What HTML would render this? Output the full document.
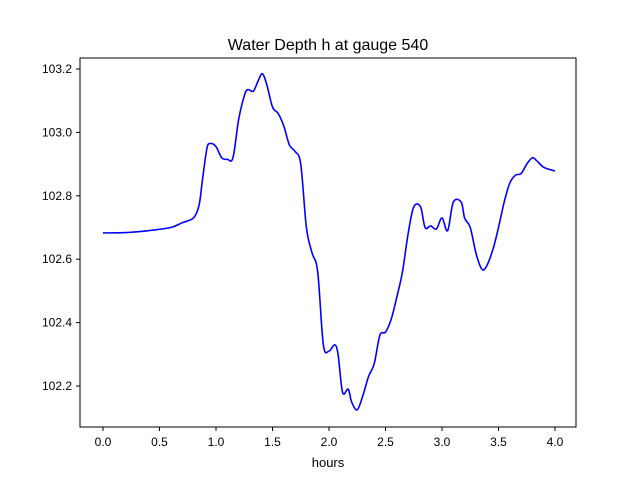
<!DOCTYPE html>
<html><head><meta charset="utf-8"><style>
body{margin:0;background:#fff;font-family:"Liberation Sans",sans-serif}
svg text{font-family:"Liberation Sans",sans-serif;fill:#000}
</style></head><body>
<svg id="c" width="640" height="480">
<rect width="640" height="480" fill="#fff"/>
<text x="328" y="50" font-size="16" text-anchor="middle">Water Depth h at gauge 540</text>
<g id="ticks"></g>
<path id="line" fill="none" stroke="#0000ff" stroke-width="1.6"/>
<rect x="80" y="58" width="496" height="369" fill="none" stroke="#000" stroke-width="1"/>
<text x="328" y="467" font-size="13" text-anchor="middle">hours</text>
</svg>
<script>
const hours=[0,0.2,0.4,0.6,0.7,0.8,0.85,0.88,0.92,0.95,1.0,1.05,1.1,1.15,1.2,1.25,1.28,1.33,1.37,1.41,1.45,1.5,1.55,1.6,1.65,1.7,1.75,1.8,1.85,1.9,1.95,2.0,2.05,2.08,2.12,2.17,2.2,2.25,2.3,2.35,2.4,2.45,2.5,2.55,2.6,2.65,2.7,2.75,2.81,2.85,2.9,2.95,3.0,3.05,3.1,3.17,3.2,3.25,3.3,3.35,3.39,3.45,3.5,3.55,3.6,3.65,3.7,3.75,3.8,3.84,3.9,4.0];
const depth=[102.683,102.684,102.69,102.70,102.715,102.73,102.77,102.85,102.95,102.965,102.955,102.92,102.915,102.92,103.04,103.115,103.135,103.13,103.16,103.185,103.15,103.08,103.06,103.02,102.96,102.94,102.9,102.7,102.62,102.56,102.33,102.31,102.33,102.3,102.18,102.19,102.15,102.125,102.17,102.23,102.27,102.36,102.37,102.41,102.48,102.56,102.68,102.765,102.765,102.7,102.705,102.695,102.73,102.69,102.78,102.78,102.73,102.7,102.62,102.57,102.575,102.63,102.7,102.78,102.84,102.865,102.87,102.9,102.92,102.91,102.89,102.878];
const xTicks=[0,0.5,1,1.5,2,2.5,3,3.5,4];
const yTicks=[102.2,102.4,102.6,102.8,103.0,103.2];
const X=v=>103+v*113, Y=v=>386-(v-102.2)*317;
const g=document.getElementById('ticks');
const ns='http://www.w3.org/2000/svg';
xTicks.forEach(t=>{
 const l=document.createElementNS(ns,'line');
 l.setAttribute('x1',X(t));l.setAttribute('x2',X(t));l.setAttribute('y1',427);l.setAttribute('y2',431);l.setAttribute('stroke','#000');
 
 
 g.appendChild(l);
 const tx=document.createElementNS(ns,'text');
 tx.setAttribute('x',X(t));tx.setAttribute('y',446);tx.setAttribute('font-size','12');tx.setAttribute('text-anchor','middle');
 tx.textContent=t.toFixed(1);
 
 
 g.appendChild(tx);
});
yTicks.forEach(t=>{
 const l=document.createElementNS(ns,'line');
 l.setAttribute('x1',76);l.setAttribute('x2',80);l.setAttribute('y1',Y(t));l.setAttribute('y2',Y(t));l.setAttribute('stroke','#000');
 
 
 g.appendChild(l);
 const tx=document.createElementNS(ns,'text');
 tx.setAttribute('x',72);tx.setAttribute('y',Y(t)+4);tx.setAttribute('font-size','12');tx.setAttribute('text-anchor','end');
 tx.textContent=t.toFixed(1);
 
 
 g.appendChild(tx);
});
const p=hours.map((h,i)=>[X(h),Y(depth[i])]);
let d='M'+p[0][0]+','+p[0][1];
for(let i=0;i<p.length-1;i++){
 const p0=p[i-1]||p[i],p1=p[i],p2=p[i+1],p3=p[i+2]||p2;
 const c1=[p1[0]+(p2[0]-p0[0])/6,p1[1]+(p2[1]-p0[1])/6];
 const c2=[p2[0]-(p3[0]-p1[0])/6,p2[1]-(p3[1]-p1[1])/6];
 d+=`C${c1[0]},${c1[1]} ${c2[0]},${c2[1]} ${p2[0]},${p2[1]}`;
}
document.getElementById('line').setAttribute('d',d);
</script>
</body></html>
